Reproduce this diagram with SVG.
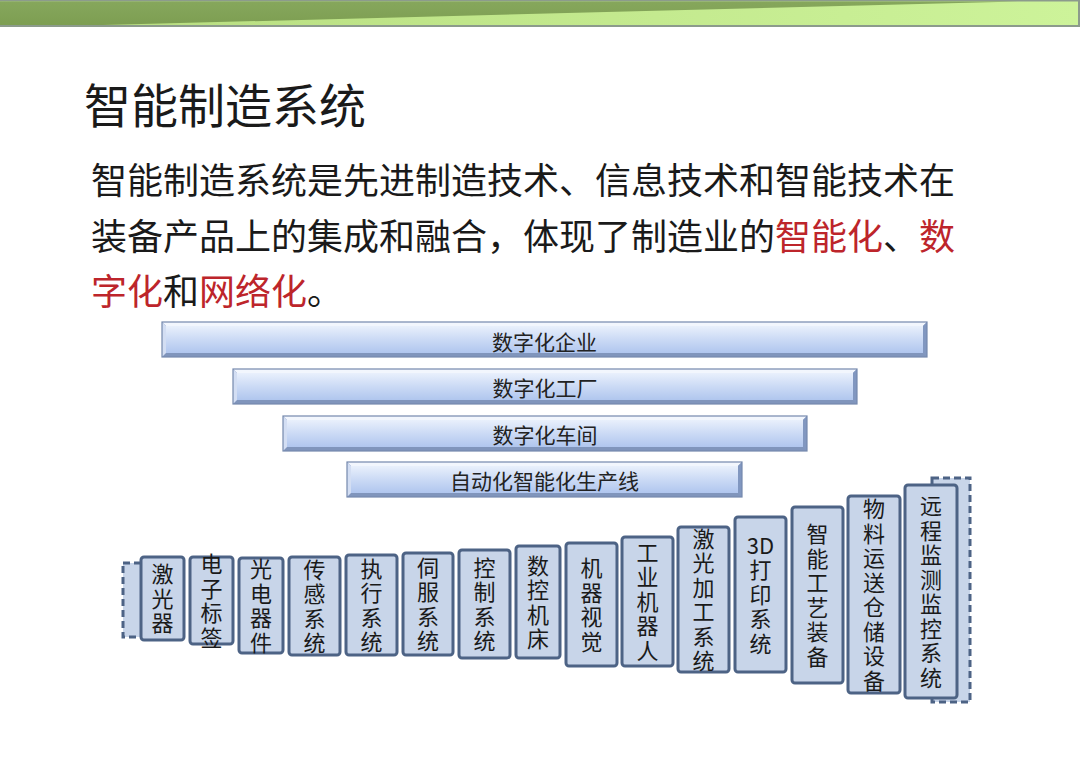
<svg xmlns="http://www.w3.org/2000/svg" width="1080" height="765" viewBox="0 0 1080 765">
<defs>
<linearGradient id="bandLight" x1="0" y1="0" x2="1" y2="0">
<stop offset="0" stop-color="#b6dc7e"/>
<stop offset="1" stop-color="#cdf39a"/>
</linearGradient>
<linearGradient id="bandDark" x1="0" y1="0" x2="0" y2="1">
<stop offset="0" stop-color="#86a75c"/>
<stop offset="1" stop-color="#7d9e52"/>
</linearGradient>
<linearGradient id="barGrad" x1="0" y1="0" x2="0" y2="1">
<stop offset="0" stop-color="#e9f0fc"/>
<stop offset="0.5" stop-color="#cbdaf5"/>
<stop offset="1" stop-color="#b0c6ee"/>
</linearGradient>
<style>
.cjk{font-family:"Noto Sans CJK SC","Noto Sans",sans-serif;fill:#1a1a1a}
.title{font-size:47px}
.body{font-size:36px}
.red{fill:#bd252b}
.bartxt{font-size:21px;text-anchor:middle;fill:#222}
.boxtxt{font-size:22px;text-anchor:middle;fill:#1a1a1a}
.vt{writing-mode:vertical-rl;letter-spacing:2.5px}
.box{fill:#c8d5e9;stroke:#4d6385;stroke-width:3}
.dash{fill:#c8d5e9;stroke:#4d6385;stroke-width:3;stroke-dasharray:7 4}
.face{fill:url(#barGrad)}
.bvT{fill:#f2f6fd}
.bvL{fill:#d3def3}
.bvR{fill:#8197c0}
.bvB{fill:#8095bc}
.bout{fill:none;stroke:#7589ad;stroke-width:1.2}
</style>
</defs>
<rect x="0" y="0" width="1080" height="765" fill="#ffffff"/>
<!-- top band -->
<g id="band">
<rect x="0" y="0" width="1080" height="27" fill="#8c9b8c"/>
<rect x="0" y="1.5" width="1078" height="23.5" fill="url(#bandLight)"/>
<polygon points="0,1.5 1020,1.5 103,25 0,25" fill="url(#bandDark)"/>
</g>
<!-- title and body -->
<text class="cjk title" x="84" y="123">智能制造系统</text>
<text class="cjk body" x="91" y="194">智能制造系统是先进制造技术、信息技术和智能技术在</text>
<text class="cjk body" x="91" y="250">装备产品上的集成和融合，体现了制造业的<tspan class="red">智能化</tspan>、<tspan class="red">数</tspan></text>
<text class="cjk body" x="91" y="305"><tspan class="red">字化</tspan>和<tspan class="red">网络化</tspan>。</text>
<!-- bars -->
<g id="bar-enterprise">
<rect x="162" y="322" width="765" height="35" class="bvB"/>
<polygon class="bvT" points="162,322 927,322 923,326 166,326"/>
<polygon class="bvL" points="162,322 166,326 166,353 162,357"/>
<polygon class="bvR" points="927,322 927,357 923,353 923,326"/>
<rect x="166" y="326" width="757" height="27" class="face"/>
<rect x="162" y="322" width="765" height="35" class="bout"/>
<text class="cjk bartxt" x="544.5" y="350">数字化企业</text>
</g>
<g id="bar-factory">
<rect x="233" y="369" width="624" height="35" class="bvB"/>
<polygon class="bvT" points="233,369 857,369 853,373 237,373"/>
<polygon class="bvL" points="233,369 237,373 237,400 233,404"/>
<polygon class="bvR" points="857,369 857,404 853,400 853,373"/>
<rect x="237" y="373" width="616" height="27" class="face"/>
<rect x="233" y="369" width="624" height="35" class="bout"/>
<text class="cjk bartxt" x="545" y="396">数字化工厂</text>
</g>
<g id="bar-workshop">
<rect x="283" y="416" width="524" height="35" class="bvB"/>
<polygon class="bvT" points="283,416 807,416 803,420 287,420"/>
<polygon class="bvL" points="283,416 287,420 287,447 283,451"/>
<polygon class="bvR" points="807,416 807,451 803,447 803,420"/>
<rect x="287" y="420" width="516" height="27" class="face"/>
<rect x="283" y="416" width="524" height="35" class="bout"/>
<text class="cjk bartxt" x="545" y="443">数字化车间</text>
</g>
<g id="bar-line">
<rect x="347" y="462" width="395" height="35" class="bvB"/>
<polygon class="bvT" points="347,462 742,462 738,466 351,466"/>
<polygon class="bvL" points="347,462 351,466 351,493 347,497"/>
<polygon class="bvR" points="742,462 742,497 738,493 738,466"/>
<rect x="351" y="466" width="387" height="27" class="face"/>
<rect x="347" y="462" width="395" height="35" class="bout"/>
<text class="cjk bartxt" x="544.5" y="489">自动化智能化生产线</text>
</g>
<!-- dashed stacks -->
<g id="stack-left"><rect x="123" y="563" width="30" height="74" class="dash"/></g>
<g id="stack-right"><rect x="932" y="478" width="38" height="224" class="dash"/></g>
<!-- boxes -->
<g id="b1"><rect x="141" y="557" width="43" height="83" rx="3" class="box"/>
<text class="cjk boxtxt vt" x="162.5" y="599.75">激光器</text></g>
<g id="b2"><rect x="190" y="557" width="43" height="87" rx="3" class="box"/>
<text class="cjk boxtxt vt" x="211.5" y="601.75">电子标签</text></g>
<g id="b3"><rect x="239" y="558" width="44" height="95" rx="3" class="box"/>
<text class="cjk boxtxt vt" x="261" y="606.75">光电器件</text></g>
<g id="b4"><rect x="289" y="557" width="51" height="98" rx="3" class="box"/>
<text class="cjk boxtxt vt" x="314.5" y="607.5">传感系统</text></g>
<g id="b5"><rect x="346" y="555" width="51" height="100" rx="3" class="box"/>
<text class="cjk boxtxt vt" x="371.5" y="606.25">执行系统</text></g>
<g id="b6"><rect x="403" y="553" width="50" height="102" rx="3" class="box"/>
<text class="cjk boxtxt vt" x="428" y="605.25">伺服系统</text></g>
<g id="b7"><rect x="459" y="550" width="51" height="108" rx="3" class="box"/>
<text class="cjk boxtxt vt" x="484.5" y="605.25">控制系统</text></g>
<g id="b8"><rect x="516" y="546" width="44" height="112" rx="3" class="box"/>
<text class="cjk boxtxt vt" x="538" y="603.25">数控机床</text></g>
<g id="b9"><rect x="566" y="543" width="51" height="123" rx="3" class="box"/>
<text class="cjk boxtxt vt" x="591.5" y="605.75">机器视觉</text></g>
<g id="b10"><rect x="622" y="537" width="51" height="129" rx="3" class="box"/>
<text class="cjk boxtxt vt" x="647.5" y="602.75">工业机器人</text></g>
<g id="b11"><rect x="678" y="527" width="51" height="145" rx="3" class="box"/>
<text class="cjk boxtxt vt" x="703.5" y="600.75">激光加工系统</text></g>
<g id="b12"><rect x="735" y="517" width="51" height="155" rx="3" class="box"/>
<text class="cjk boxtxt" x="760.5" y="553.5">3D</text>
<text class="cjk boxtxt vt" x="760.5" y="608">打印系统</text></g>
<g id="b13"><rect x="792" y="507" width="51" height="176" rx="3" class="box"/>
<text class="cjk boxtxt vt" x="817.5" y="596.25">智能工艺装备</text></g>
<g id="b14"><rect x="848" y="496" width="52" height="197" rx="3" class="box"/>
<text class="cjk boxtxt vt" x="874" y="595.75">物料运送仓储设备</text></g>
<g id="b15"><rect x="905" y="485" width="52" height="213" rx="3" class="box"/>
<text class="cjk boxtxt vt" x="931" y="592.75">远程监测监控系统</text></g>
<g id="connectors"/>
</svg>
